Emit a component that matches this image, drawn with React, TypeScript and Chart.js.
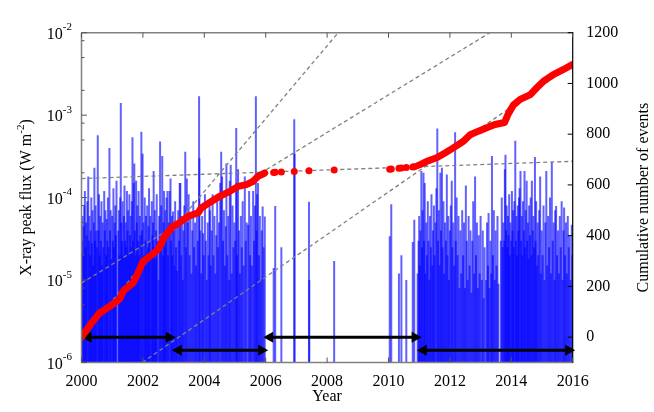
import React, { useEffect, useRef } from 'react';
import { Chart, registerables } from 'chart.js';
Chart.register(...registerables);

const FONT = '"Liberation Serif", "Times New Roman", serif';

const YEAR_TICKS = [2000, 2002, 2004, 2006, 2008, 2010, 2012, 2014, 2016];
const COUNT_TICKS = [0, 200, 400, 600, 800, 1000, 1200];
const FLUX_DECADES = [1e-6, 1e-5, 1e-4, 1e-3, 1e-2];
const FLUX_MINOR_STEPS = [2, 5, 8];

// individual events: [year, peak flux W m^-2]
const FLUX_2000_2006: [number, number][] = [
  [2000.01,3e-5],[2000.03,6e-5],[2000.05,2e-5],[2000.07,4.5e-5],[2000.09,8e-5],[2000.11,1.2e-4],[2000.13,2.5e-5],[2000.15,5e-5],[2000.17,3.5e-5],[2000.19,9e-5],[2000.22,1.8e-4],[2000.24,3e-5],[2000.26,6e-5],[2000.28,2e-5],[2000.30,4e-5],[2000.32,1e-4],[2000.34,2.8e-5],[2000.36,7e-5],[2000.38,1.5e-5],[2000.40,5e-5],[2000.42,2.3e-4],[2000.44,3e-5],[2000.46,8e-5],[2000.48,4e-5],
  [2000.50,2.5e-5],[2000.53,5.7e-4],[2000.55,4e-5],[2000.57,1.1e-4],[2000.59,2e-5],[2000.61,6e-5],[2000.63,3e-5],[2000.65,9e-5],[2000.67,1.5e-5],[2000.69,5e-5],[2000.71,2.5e-5],[2000.74,1.2e-4],[2000.76,4e-5],[2000.78,7e-5],[2000.80,2e-5],[2000.82,5.5e-5],[2000.84,3e-5],[2000.86,1e-4],[2000.88,2.5e-5],[2000.91,4e-4],[2000.93,4e-5],[2000.95,7e-5],[2000.97,1.8e-5],
  [2001.00,6e-5],[2001.02,3e-5],[2001.04,1.3e-4],[2001.06,2.5e-5],[2001.08,5e-5],[2001.10,8e-5],[2001.12,3.5e-5],[2001.14,1.6e-4],[2001.20,4e-5],[2001.22,7e-5],[2001.24,2e-5],[2001.26,1e-4],[2001.28,1.4e-3],[2001.30,5e-5],[2001.32,3e-5],[2001.34,9e-5],[2001.36,2e-5],[2001.38,6e-5],[2001.40,1.4e-4],[2001.42,3e-5],[2001.44,5e-5],[2001.46,2.5e-5],[2001.48,1.2e-4],
  [2001.50,4e-5],[2001.52,7e-5],[2001.54,2e-5],[2001.56,1.1e-4],[2001.58,3.5e-5],[2001.60,6e-5],[2001.62,2.5e-5],[2001.64,9e-5],[2001.66,5.4e-4],[2001.68,3e-5],[2001.70,1.5e-4],[2001.72,2.6e-4],[2001.74,4e-5],[2001.76,2e-5],[2001.78,1.6e-4],[2001.80,5e-5],[2001.82,8e-5],[2001.84,3e-5],[2001.86,1.2e-4],[2001.88,2e-5],[2001.90,6e-5],[2001.92,3.5e-5],[2001.95,6.3e-4],[2001.97,4e-5],[2001.99,3.4e-4],
  [2002.02,5e-5],[2002.04,2e-5],[2002.06,1e-4],[2002.08,3e-5],[2002.10,6e-5],[2002.12,1.5e-5],[2002.14,8e-5],[2002.16,2.5e-5],[2002.18,4.5e-5],[2002.20,1.3e-4],[2002.22,3e-5],[2002.24,6e-5],[2002.27,2e-5],[2002.29,9e-5],[2002.31,3.5e-5],[2002.33,5e-5],[2002.35,2.1e-4],[2002.37,2.5e-5],[2002.39,7e-5],[2002.41,1.8e-5],[2002.43,4e-5],[2002.45,1.1e-4],[2002.47,3e-5],[2002.51,1e-5],
  [2002.53,6e-5],[2002.56,4.8e-4],[2002.58,3e-5],[2002.60,8e-5],[2002.63,3.2e-4],[2002.65,2e-5],[2002.67,5e-5],[2002.69,1.2e-4],[2002.71,2.5e-5],[2002.73,7e-5],[2002.75,3.5e-5],[2002.77,1e-4],[2002.80,1.2e-4],[2002.82,2e-5],[2002.84,5e-5],[2002.87,1.2e-4],[2002.90,1.7e-4],[2002.92,3e-5],[2002.94,6e-5],[2002.96,2e-5],[2002.98,6.8e-5],
  [2003.01,4e-5],[2003.03,1.5e-5],[2003.05,9e-5],[2003.08,2.5e-5],[2003.10,5e-5],[2003.12,1.3e-5],[2003.15,7e-5],[2003.18,3e-5],[2003.20,1.5e-4],[2003.22,1.5e-4],[2003.25,2e-5],[2003.27,6e-5],[2003.30,1e-5],[2003.32,4e-5],[2003.35,8e-5],[2003.38,3.6e-4],[2003.40,2.5e-5],[2003.43,1.7e-4],[2003.46,5e-5],[2003.49,1.1e-4],
  [2003.52,2e-5],[2003.55,6e-5],[2003.58,1.2e-5],[2003.61,4e-5],[2003.64,9e-5],[2003.67,2.5e-5],[2003.70,5e-5],[2003.73,1.5e-5],[2003.76,7e-5],[2003.79,3e-5],[2003.83,1.7e-3],[2003.84,3e-4],[2003.87,4e-5],[2003.90,1.2e-5],[2003.93,6e-5],[2003.96,3.7e-5],[2003.98,2e-5],
  [2004.02,1.1e-4],[2004.05,3e-5],[2004.08,1e-5],[2004.11,5e-5],[2004.14,2e-5],[2004.17,8e-5],[2004.18,7e-5],[2004.21,1.5e-5],[2004.24,4e-5],[2004.27,1.1e-4],[2004.30,2e-5],[2004.33,6e-5],[2004.36,1.2e-5],[2004.39,3.5e-5],[2004.42,9e-5],[2004.45,2.5e-5],[2004.48,5e-5],
  [2004.52,1.5e-4],[2004.55,3.6e-4],[2004.58,1.8e-4],[2004.61,3e-5],[2004.64,7e-5],[2004.67,1.5e-5],[2004.70,4.5e-5],[2004.72,2.6e-4],[2004.75,2e-5],[2004.78,6e-5],[2004.81,1e-5],[2004.83,1.6e-4],[2004.86,2.5e-4],[2004.89,1.2e-5],[2004.92,8e-5],[2004.95,2.5e-5],[2004.98,5e-5],
  [2005.01,3e-5],[2005.04,7e-4],[2005.05,1.5e-4],[2005.07,2e-5],[2005.10,2.2e-4],[2005.13,4e-5],[2005.16,1.2e-5],[2005.19,6e-5],[2005.22,2.5e-5],[2005.25,9e-5],[2005.28,1.5e-5],[2005.32,1.8e-4],[2005.35,3e-5],[2005.38,5e-5],[2005.43,4.7e-5],[2005.46,1.2e-4],[2005.49,2e-5],
  [2005.52,6e-5],[2005.55,1.5e-5],[2005.59,1.2e-4],[2005.62,3e-5],[2005.65,8e-5],[2005.68,1.7e-3],[2005.70,4e-5],[2005.72,1.1e-4],[2005.75,1.5e-4],[2005.78,2e-5],[2005.81,6e-5],[2005.84,1e-5],[2005.87,4e-5],[2005.90,7.8e-5],[2005.93,2.5e-5],[2005.97,5.9e-5],
];

const FLUX_2006_2011: [number, number][] = [
  [2006.26,1.4e-5],[2006.31,7.9e-5],[2006.51,2.5e-5],[2006.93,8.9e-4],[2006.94,3.4e-4],[2007.41,8.9e-5],[2007.42,1e-5],[2008.23,1.7e-5],
  [2010.04,3.4e-5],[2010.09,8.3e-5],[2010.34,1.2e-5],[2010.42,2e-5],[2010.58,1e-5],[2010.79,2.9e-5],[2010.84,5.4e-5],
];

const FLUX_2011_2016: [number, number][] = [
  [2010.95,1.2e-5],[2010.98,3e-5],[2011.00,6e-5],[2011.02,1.5e-5],[2011.04,4e-5],[2011.07,2.1e-4],[2011.09,2.5e-5],[2011.11,7e-5],[2011.14,2e-4],[2011.16,3e-5],[2011.18,1.5e-4],[2011.20,1.2e-5],[2011.23,5e-5],[2011.25,2e-5],[2011.28,9e-5],[2011.30,3e-5],[2011.33,1e-5],[2011.35,6e-5],[2011.38,2.5e-5],[2011.40,1.1e-4],[2011.43,1.5e-5],[2011.45,4e-5],[2011.48,8e-5],[2011.50,2e-5],
  [2011.53,5e-5],[2011.56,1.3e-4],[2011.59,6.9e-4],[2011.61,3e-5],[2011.64,7e-5],[2011.66,1.5e-5],[2011.69,2e-4],[2011.71,4e-5],[2011.74,2.3e-4],[2011.76,2.5e-5],[2011.79,9e-5],[2011.81,1.2e-5],[2011.84,5e-5],[2011.87,3e-5],[2011.90,1.9e-4],[2011.92,2e-5],[2011.95,6e-5],[2011.97,1e-5],
  [2012.00,4e-5],[2012.03,8e-5],[2012.06,1.6e-4],[2012.08,2.5e-5],[2012.11,5e-5],[2012.14,1.5e-5],[2012.17,6.2e-4],[2012.19,3e-5],[2012.22,1e-4],[2012.25,2e-5],[2012.28,6e-5],[2012.31,8e-6],[2012.34,4e-5],[2012.37,1.2e-5],[2012.40,7e-5],[2012.43,2e-5],[2012.46,5e-5],[2012.49,8e-6],
  [2012.52,1.4e-4],[2012.55,3e-5],[2012.58,1e-5],[2012.61,6e-5],[2012.64,1.5e-5],[2012.67,4e-5],[2012.70,7e-6],[2012.73,3e-5],[2012.76,9e-5],[2012.79,1.2e-5],[2012.82,1.8e-4],[2012.85,2e-5],[2012.88,5e-5],[2012.91,8e-6],[2012.94,3.5e-5],[2012.97,1.2e-5],
  [2013.00,6e-5],[2013.04,1e-5],[2013.07,4e-5],[2013.10,6e-6],[2013.13,2.5e-5],[2013.18,1e-5],[2013.21,5e-5],[2013.24,1.5e-5],[2013.26,6.5e-5],[2013.29,8e-6],[2013.32,3e-5],[2013.35,1.2e-5],[2013.37,3.2e-4],[2013.40,2e-5],[2013.43,7e-5],[2013.46,1e-5],[2013.49,4e-5],[2013.52,1.5e-5],[2013.55,6e-5],[2013.58,9e-6],
  [2013.66,3e-5],[2013.69,1e-4],[2013.72,2.5e-5],[2013.74,5e-5],[2013.77,3e-5],[2013.79,2.2e-4],[2013.81,3.3e-4],[2013.83,4e-5],[2013.85,8e-5],[2013.87,2.5e-5],[2013.89,6e-5],[2013.91,3.5e-5],[2013.93,1.1e-4],[2013.95,2e-5],[2013.97,5e-5],
  [2014.00,3e-5],[2014.02,1.2e-4],[2014.04,4e-5],[2014.06,7e-5],[2014.08,2.5e-5],[2014.10,9e-5],[2014.13,4.9e-4],[2014.15,3e-5],[2014.17,6e-5],[2014.19,2e-5],[2014.21,8e-5],[2014.23,4e-5],[2014.25,1e-4],[2014.27,1.3e-4],[2014.30,2.1e-4],[2014.32,3e-5],[2014.34,6e-5],[2014.36,2e-5],[2014.38,9e-5],[2014.41,4e-5],[2014.43,2.1e-4],[2014.45,2.5e-5],[2014.47,7e-5],
  [2014.50,1.6e-4],[2014.52,3e-5],[2014.54,5e-5],[2014.56,1.8e-5],[2014.58,8e-5],[2014.61,3.5e-5],[2014.63,1e-4],[2014.65,2e-5],[2014.67,1.6e-4],[2014.70,4e-5],[2014.72,6e-5],[2014.74,2.5e-5],[2014.77,3.1e-4],[2014.79,3e-5],[2014.81,9e-5],[2014.83,1.5e-5],[2014.86,5e-5],[2014.88,2e-5],[2014.91,7e-5],[2014.94,1.8e-4],[2014.96,1.2e-5],[2014.99,4e-5],
  [2015.02,2e-5],[2015.05,8e-5],[2015.08,1e-5],[2015.11,5e-5],[2015.14,2.1e-4],[2015.17,1.5e-5],[2015.20,6e-5],[2015.23,2.5e-5],[2015.26,1e-4],[2015.29,1.2e-5],[2015.32,2.7e-4],[2015.35,3e-5],[2015.38,5e-5],[2015.41,1e-5],[2015.43,7e-5],[2015.46,7.9e-5],[2015.49,2e-5],
  [2015.52,4e-5],[2015.55,1.2e-5],[2015.58,6e-5],[2015.61,2.5e-5],[2015.64,9e-5],[2015.67,1e-5],[2015.70,4e-5],[2015.72,7.6e-5],[2015.75,2e-5],[2015.78,5e-5],[2015.81,1.2e-5],[2015.84,6e-5],[2015.87,2.5e-5],[2015.90,3.5e-5],[2015.93,1e-5],[2015.97,4.7e-5],[2015.99,2e-5],
];

// cumulative number of events: [year, count]
const CUM_2000_2006: [number, number][] = [
  [2000.0,0],[2000.32,55],[2000.59,95],[2000.92,121],[2001.24,150],[2001.38,185],[2001.68,213],[2001.84,253],[2002.0,298],[2002.22,318],[2002.49,345],[2002.71,397],[2002.98,437],[2003.14,447],[2003.47,476],[2003.8,490],[2003.9,509],[2004.23,535],[2004.5,555],[2004.83,575],[2005.1,594],[2005.37,601],[2005.59,614],[2005.75,634],[2005.97,647],
];
const CUM_2006_2011: [number, number][] = [
  [2006.26,649],[2006.31,650],[2006.51,651],[2006.93,653],[2007.41,656],[2008.23,659],[2010.04,662],[2010.09,663],[2010.34,666],[2010.42,667],[2010.58,669],[2010.79,671],[2010.84,672],
];
const CUM_2011_2016: [number, number][] = [
  [2010.95,676],[2011.03,680],[2011.25,693],[2011.57,707],[2011.84,726],[2012.11,746],[2012.44,772],[2012.66,798],[2012.93,812],[2013.2,825],[2013.47,838],[2013.78,846],[2013.9,880],[2014.07,915],[2014.29,937],[2014.62,956],[2014.83,983],[2015.05,1009],[2015.37,1035],[2015.7,1055],[2016.0,1075],
];

// linear trends of the cumulative count for each period
const TREND_2000_2003: [number, number][] = [[2000, 0], [2008.36, 1200]];
const TREND_2003_2006: [number, number][] = [[2000, 213], [2013.3, 1200]];
const TREND_2006_2011: [number, number][] = [[2000, 625], [2016, 693]];
const TREND_2011_2016: [number, number][] = [[2001.98, -100], [2016, 1075]];

// period arrows: [start year, end year, count level]
const PERIOD_ARROWS: [number, number, number][] = [
  [2000.0, 2003.07, 0], [2002.94, 2006.08, -52], [2005.92, 2011.08, 0], [2010.92, 2016.08, -52],
];

const pts = (a: [number, number][]) => a.map(([x, y]) => ({ x, y }));

const decoPlugin = {
  id: 'deco',
  afterDatasetDraw(chart: any, args: any) {
    if (chart.data.datasets[args.index].label !== 'flux') return;
    const { ctx, scales } = chart;
    ctx.save();
    ctx.fillStyle = '#000';
    ctx.strokeStyle = '#000';
    ctx.lineWidth = 3;
    const hl = 10, hh = 5.5;
    for (const [a, b, v] of PERIOD_ARROWS) {
      const x1 = scales.x.getPixelForValue(a);
      const x2 = scales.x.getPixelForValue(b);
      const y = scales.y2.getPixelForValue(v);
      ctx.beginPath();
      ctx.moveTo(x1 + hl - 1, y);
      ctx.lineTo(x2 - hl + 1, y);
      ctx.stroke();
      ctx.beginPath();
      ctx.moveTo(x1, y); ctx.lineTo(x1 + hl, y - hh); ctx.lineTo(x1 + hl, y + hh); ctx.closePath();
      ctx.fill();
      ctx.beginPath();
      ctx.moveTo(x2, y); ctx.lineTo(x2 - hl, y - hh); ctx.lineTo(x2 - hl, y + hh); ctx.closePath();
      ctx.fill();
    }
    ctx.restore();
  },
  afterDraw(chart: any) {
    const { ctx, chartArea: { left, right, top, bottom }, scales } = chart;
    ctx.save();
    // frame
    ctx.strokeStyle = '#808080';
    ctx.lineWidth = 1.5;
    ctx.beginPath();
    ctx.moveTo(left, top); ctx.lineTo(right, top);
    ctx.moveTo(left, bottom); ctx.lineTo(right, bottom);
    ctx.moveTo(left, top); ctx.lineTo(left, bottom);
    ctx.stroke();
    ctx.strokeStyle = '#000';
    ctx.lineWidth = 1.2;
    ctx.beginPath(); ctx.moveTo(right, top - 0.6); ctx.lineTo(right, bottom + 0.6); ctx.stroke();
    // ticks
    ctx.strokeStyle = '#555';
    ctx.lineWidth = 1;
    ctx.beginPath();
    for (const v of YEAR_TICKS) {
      const x = scales.x.getPixelForValue(v);
      ctx.moveTo(x, bottom); ctx.lineTo(x, bottom - 5);
      ctx.moveTo(x, top); ctx.lineTo(x, top + 5);
    }
    for (const d of FLUX_DECADES) {
      const y = scales.y.getPixelForValue(d);
      ctx.moveTo(left, y); ctx.lineTo(left + 5.5, y);
      if (d < 1e-2) {
        for (const m of FLUX_MINOR_STEPS) {
          const ym = scales.y.getPixelForValue(d * m);
          ctx.moveTo(left, ym); ctx.lineTo(left + 3, ym);
        }
      }
    }
    ctx.stroke();
    ctx.strokeStyle = '#000';
    ctx.beginPath();
    for (const v of COUNT_TICKS) {
      const y = scales.y2.getPixelForValue(v);
      ctx.moveTo(right, y); ctx.lineTo(right - 5, y);
    }
    ctx.stroke();
    // left tick labels 10^-n
    ctx.fillStyle = '#000';
    ctx.textAlign = 'left';
    ctx.textBaseline = 'alphabetic';
    for (const d of FLUX_DECADES) {
      const y = scales.y.getPixelForValue(d);
      const sup = '-' + Math.round(-Math.log10(d));
      ctx.font = '11px ' + FONT;
      const ws = ctx.measureText(sup).width;
      ctx.font = '16px ' + FONT;
      const wb = ctx.measureText('10').width;
      const xr = 72;
      ctx.fillText('10', xr - ws - wb, y + 6);
      ctx.font = '11px ' + FONT;
      ctx.fillText(sup, xr - ws, y - 2.5);
    }
    // axis titles
    ctx.font = '16px ' + FONT;
    ctx.textAlign = 'center';
    ctx.fillText('Year', (left + right) / 2, 400.5);
    const midY = (top + bottom) / 2;
    // left title with superscript
    ctx.save();
    ctx.translate(31, midY);
    ctx.rotate(-Math.PI / 2);
    ctx.textAlign = 'left';
    const t1 = 'X-ray peak flux (W m', t2 = '-2', t3 = ')';
    ctx.font = '16px ' + FONT;
    const w1 = ctx.measureText(t1).width, w3 = ctx.measureText(t3).width;
    ctx.font = '11px ' + FONT;
    const w2 = ctx.measureText(t2).width;
    let x0 = -(w1 + w2 + w3) / 2;
    ctx.font = '16px ' + FONT;
    ctx.fillText(t1, x0, 0);
    ctx.font = '11px ' + FONT;
    ctx.fillText(t2, x0 + w1, -7);
    ctx.font = '16px ' + FONT;
    ctx.fillText(t3, x0 + w1 + w2, 0);
    ctx.restore();
    // right title
    ctx.save();
    ctx.translate(647.5, midY);
    ctx.rotate(-Math.PI / 2);
    ctx.textAlign = 'center';
    ctx.font = '16px ' + FONT;
    ctx.fillText('Cumulative number of events', 0, 0);
    ctx.restore();
    ctx.restore();
  },
};

export default function App() {
  const ref = useRef<HTMLCanvasElement>(null);
  useEffect(() => {
    const canvas = ref.current!;
    const trend = (label: string, d: [number, number][]) => ({
      type: 'line' as const, label, data: pts(d), yAxisID: 'y2', borderColor: '#808080', borderWidth: 1.3,
      borderDash: [4, 3], pointRadius: 0, tension: 0, order: 1, fill: false,
    });
    const chart = new Chart(canvas, {
      type: 'bar',
      data: {
        datasets: [
          { type: 'line', label: 'cum1', data: pts(CUM_2000_2006), yAxisID: 'y2', borderColor: '#ff0000', borderWidth: 7, pointRadius: 0, borderCapStyle: 'round', borderJoinStyle: 'round', tension: 0, order: 0, fill: false },
          { type: 'line', label: 'cum3', data: pts(CUM_2011_2016), yAxisID: 'y2', borderColor: '#ff0000', borderWidth: 7, pointRadius: 0, borderCapStyle: 'round', borderJoinStyle: 'round', tension: 0, order: 0, fill: false },
          { type: 'line', label: 'cum2', data: pts(CUM_2006_2011), yAxisID: 'y2', showLine: false, pointRadius: 3.5, pointBackgroundColor: '#ff0000', pointBorderColor: '#ff0000', pointBorderWidth: 0, order: 0 },
          trend('t1', TREND_2000_2003),
          trend('t2', TREND_2003_2006),
          trend('t3', TREND_2006_2011),
          trend('t4', TREND_2011_2016),
          { type: 'bar', label: 'flux', data: pts([...FLUX_2000_2006, ...FLUX_2006_2011, ...FLUX_2011_2016]), yAxisID: 'y', xAxisID: 'x', backgroundColor: 'rgba(0,0,255,0.62)', borderWidth: 0, barThickness: 2, inflateAmount: 0, order: 3 },
        ] as any,
      },
      options: {
        responsive: false,
        animation: false,
        events: [],
        layout: { padding: { top: 32.7, left: 0, right: 0, bottom: 0 } },
        plugins: { legend: { display: false }, tooltip: { enabled: false } },
        scales: {
          x: {
            type: 'linear', position: 'bottom', min: 2000, max: 2016, offset: false,
            grid: { display: false, drawTicks: false }, border: { display: false },
            ticks: { padding: 10, color: '#000', font: { family: FONT, size: 16 }, autoSkip: false, maxRotation: 0, callback: (v: any) => String(v) },
            afterBuildTicks: (s: any) => { s.ticks = YEAR_TICKS.map((v) => ({ value: v })); },
            afterFit: (s: any) => { s.height = 49.5; },
          },
          y: {
            type: 'logarithmic', position: 'left', min: 1e-6, max: 1e-2,
            grid: { display: false, drawTicks: false }, border: { display: false },
            ticks: { display: false },
            afterFit: (s: any) => { s.width = 81.5; },
          },
          y2: {
            type: 'linear', position: 'right', min: -100, max: 1200,
            grid: { display: false, drawTicks: false }, border: { display: false },
            ticks: { padding: 13.5, color: '#000', font: { family: FONT, size: 16 }, callback: (v: any) => String(v) },
            afterBuildTicks: (s: any) => { s.ticks = COUNT_TICKS.map((v) => ({ value: v })); },
            afterFit: (s: any) => { s.width = 81.3; },
          },
        },
      } as any,
      plugins: [decoPlugin],
    });
    return () => chart.destroy();
  }, []);
  return (
    <div style={{ position: 'absolute', left: 0, top: 0, width: 654, height: 412, background: '#fff' }}>
      <canvas ref={ref} width={654} height={412} style={{ display: 'block', width: 654, height: 412 }} />
    </div>
  );
}
